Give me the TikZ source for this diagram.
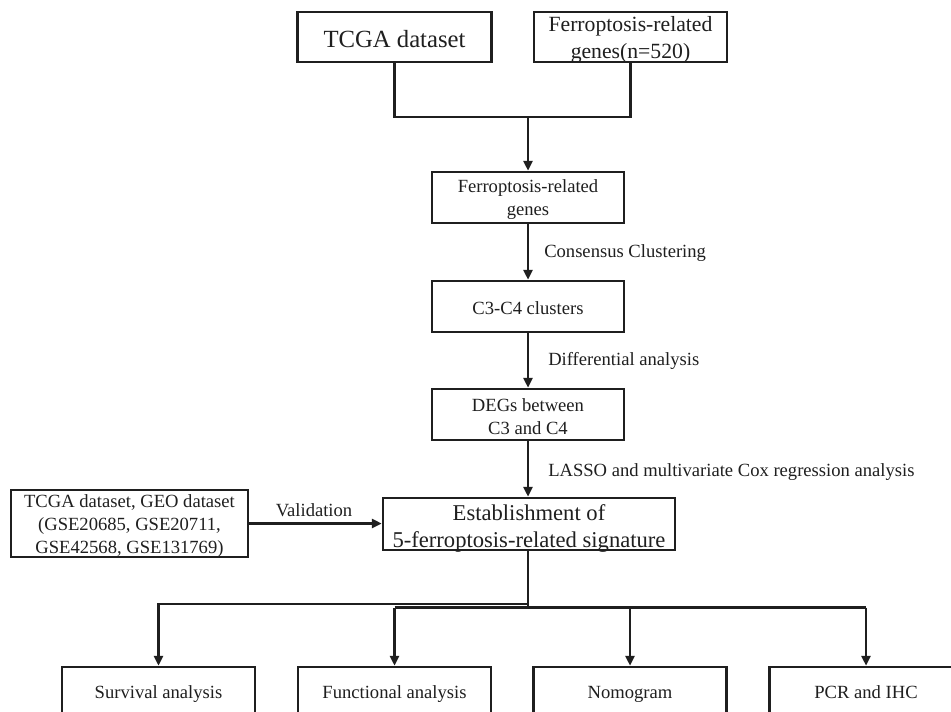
\documentclass[tikz,border=0pt]{standalone}
\usepackage{fontspec}
\setmainfont{Liberation Serif}
\usetikzlibrary{arrows.meta}
\begin{document}
\begin{tikzpicture}[x=1pt,y=-1pt,
  line width=2.5pt, line join=miter,
  boxnode/.style={draw=black!88, line width=2.5pt, rectangle, inner sep=0pt, text=black!88},
  sline/.style={text height=16.6pt, text depth=0pt},
  bline/.style={text height=14pt, text depth=4pt},
  fs/.style={font=\fontsize{18.6}{23}\selectfont},
  txt/.style={inner sep=0pt, align=center, text=black!88},
  arr/.style={-{Triangle[length=10pt,width=9pt]}, draw=black!88},
  lbl/.style={font=\fontsize{18.6}{23}\selectfont, text=black!88, inner sep=0pt}
]
\clip (0,0) rectangle (951,712);
\fill[white] (0,0) rectangle (951,712);

% top row
\node[boxnode, font=\fontsize{24.7}{30}\selectfont, text height=20pt, text depth=0pt, minimum width=194pt, minimum height=50pt] (tcga) at (394.5,37) {TCGA dataset};
\node[boxnode, minimum width=193pt, minimum height=50pt] (ferroT) at (630.5,37) {};
\node[txt, font=\fontsize{21.7}{27}\selectfont] (ferroTt) at (630.5,40) {Ferroptosis-related\\genes(n=520)};
\coordinate (j) at (528,117);

% middle column
\node[boxnode, minimum width=192pt, minimum height=51pt] (genes) at (528,197.5) {};
\node[txt, fs] (genest) at (528,200) {Ferroptosis-related\\genes};
\node[boxnode, fs, sline, minimum width=192pt, minimum height=51pt] (clus) at (528,306.5) {C3-C4 clusters};
\node[boxnode, minimum width=192pt, minimum height=51pt] (degs) at (528,414.5) {};
\node[txt, fs] (degst) at (528,416.5) {DEGs between\\C3 and C4};
\node[boxnode, minimum width=292pt, minimum height=52pt] (est) at (529,524) {};
\node[txt, font=\fontsize{22.6}{27}\selectfont] (estt) at (529,528) {Establishment of\\5-ferroptosis-related signature};

% left validation box
\node[boxnode, minimum width=237pt, minimum height=67pt] (val) at (129.5,523.5) {};
\node[txt, fs] (valt) at (129.5,526.5) {TCGA dataset, GEO dataset\\(GSE20685, GSE20711,\\GSE42568, GSE131769)};

% bottom row
\node[boxnode, fs, bline, minimum width=193pt, minimum height=52pt] (surv) at (158.5,693) {Survival analysis};
\node[boxnode, fs, bline, minimum width=193pt, minimum height=52pt] (func) at (394.5,693) {Functional analysis};
\node[boxnode, fs, bline, minimum width=193pt, minimum height=52pt] (nomo) at (630,693) {Nomogram};
\node[boxnode, fs, bline, minimum width=193pt, minimum height=52pt] (pcr) at (866,693) {PCR and IHC};

% labels
\node[lbl, anchor=west] (lcons) at (543,253) {Consensus Clustering};
\node[lbl, anchor=west] (ldiff) at (547,361) {Differential analysis};
\node[lbl, anchor=west] (llasso) at (547,472) {LASSO and multivariate Cox regression analysis};
\node[lbl] (lval) at (314,510) {Validation};

% connectors top
\draw[black!88] (tcga.south) |- (j) -| (ferroT.south);
\draw[arr] (j) -- (genes.north);
\draw[arr] (genes.south) -- (clus.north);
\draw[arr] (clus.south) -- (degs.north);
\draw[arr] (degs.south) -- (degs.south |- est.north);
\draw[arr] (val.east) -- (est.west |- val.east);

% bottom split
\coordinate (s1) at (528,604);
\coordinate (s2) at (528,607.5);
\draw[black!88] (s2 |- est.south) -- (s2);
\draw[arr] (s1) -| (surv.north);
\draw[black!88] (func.north |- s2) -- (pcr.north |- s2);
\draw[arr] (func.north |- s2) -- (func.north);
\draw[arr] (nomo.north |- s2) -- (nomo.north);
\draw[arr] (pcr.north |- s2) -- (pcr.north);
\end{tikzpicture}
\end{document}
